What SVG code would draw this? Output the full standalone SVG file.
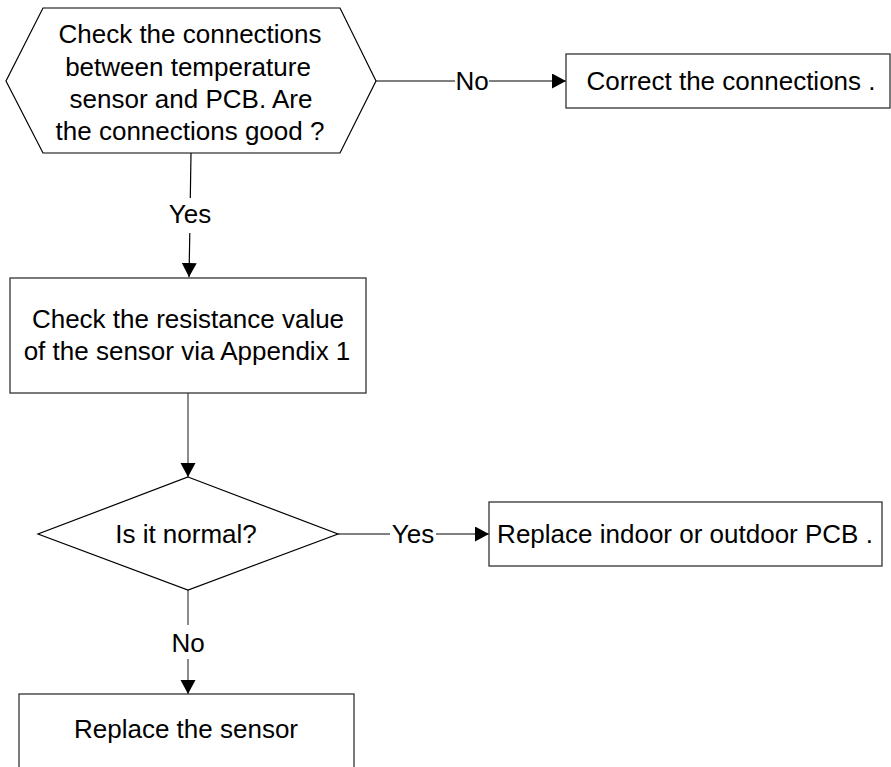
<svg xmlns="http://www.w3.org/2000/svg" width="891" height="767" viewBox="0 0 891 767">
<style>
  .t{font-family:"Liberation Sans",Arial,sans-serif;font-size:26px;fill:#000;text-anchor:middle}
  .shape{fill:#fff;stroke:#000;stroke-width:1.2}
  .box{fill:#fff;stroke:#333;stroke-width:1.3}
  .ln{fill:none;stroke:#000;stroke-width:1.2}
  .lg{fill:none;stroke:#666;stroke-width:1.5}
</style>
<defs>
  <marker id="ah" markerUnits="userSpaceOnUse" markerWidth="16" markerHeight="16" refX="14" refY="7.5" orient="auto">
    <path d="M0,0 L14,7.5 L0,15 Z" fill="#000"/>
  </marker>
</defs>
<rect width="891" height="767" fill="#fff"/>
<g id="connectors">
  <line class="ln" x1="191" y1="153" x2="190.3" y2="198"/>
  <line class="ln" x1="189.8" y1="233" x2="189" y2="277" marker-end="url(#ah)"/>
  <line class="ln" x1="376" y1="81" x2="455" y2="81"/>
  <line class="ln" x1="489" y1="81" x2="566" y2="81" marker-end="url(#ah)"/>
  <line class="lg" x1="188" y1="393" x2="188" y2="477" marker-end="url(#ah)"/>
  <line class="ln" x1="338" y1="534" x2="390" y2="534"/>
  <line class="ln" x1="436" y1="534" x2="489" y2="534" marker-end="url(#ah)"/>
  <line class="lg" x1="188" y1="590" x2="188" y2="625"/>
  <line class="lg" x1="188" y1="659" x2="188" y2="694" marker-end="url(#ah)"/>
  <text class="t" x="472" y="90">No</text>
  <text class="t" x="190" y="223">Yes</text>
  <text class="t" x="413" y="543">Yes</text>
  <text class="t" x="188" y="652">No</text>
</g>
<g id="n1">
  <polygon class="shape" points="43,8 340,8 376,81 340,153 43,153 6,81"/>
  <text class="t" x="190" y="43">Check the connections</text>
  <text class="t" x="188" y="76">between temperature</text>
  <text class="t" x="191" y="108">sensor and PCB. Are</text>
  <text class="t" x="190" y="140">the connections good ?</text>
</g>
<g id="n2">
  <rect class="box" x="566" y="54" width="324" height="54"/>
  <text class="t" x="731" y="90">Correct the connections .</text>
</g>
<g id="n3">
  <rect class="box" x="10" y="278" width="356" height="115"/>
  <text class="t" x="188" y="328">Check the resistance value</text>
  <text class="t" x="187" y="360">of the sensor via Appendix 1</text>
</g>
<g id="n4">
  <polygon class="shape" points="188,477 338,534 188,590 38,534"/>
  <text class="t" x="186" y="543">Is it normal?</text>
</g>
<g id="n5">
  <rect class="box" x="489" y="502" width="393" height="64"/>
  <text class="t" x="685" y="543">Replace indoor or outdoor PCB .</text>
</g>
<g id="n6">
  <rect class="box" x="19" y="694" width="335" height="80"/>
  <text class="t" x="186" y="738">Replace the sensor</text>
</g>
</svg>
